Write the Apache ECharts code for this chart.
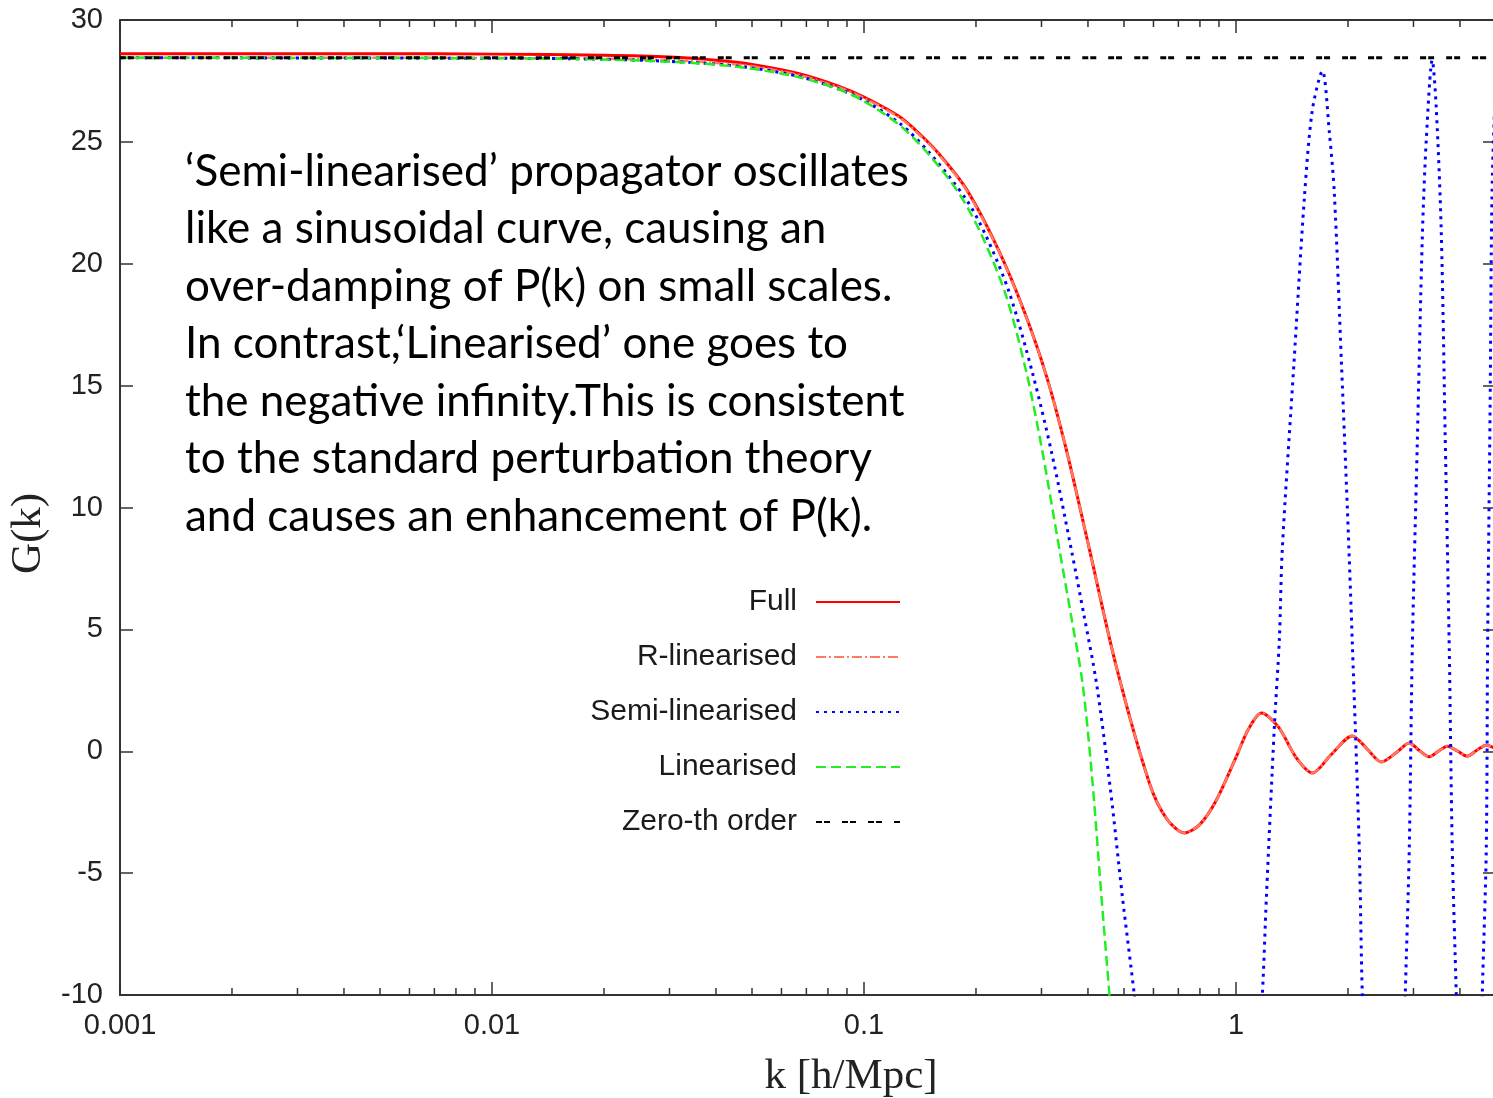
<!DOCTYPE html>
<html>
<head>
<meta charset="utf-8">
<script src="https://cdn.jsdelivr.net/npm/echarts@6/dist/echarts.min.js"></script>
<style>html,body{margin:0;padding:0;background:#fff;}#chart{width:1493px;height:1098px;}</style>
</head>
<body>
<div id="chart"></div>
<script>
// ---- data (k in h/Mpc, G(k)) ----
const seriesNames = ['Full', 'R-linearised', 'Semi-linearised', 'Linearised', 'Zero-th order'];

const fullData = [
  [0.001,28.62],[0.005,28.62],[0.01,28.6],[0.02,28.55],[0.03,28.48],[0.04,28.35],[0.05,28.18],
  [0.067,27.8],[0.085,27.3],[0.1,26.84],[0.125,26.02],[0.143,25.24],[0.16,24.46],[0.189,23.03],
  [0.23,20.56],[0.27,18.02],[0.31,15.35],[0.35,12.36],[0.404,8.26],[0.477,3.46],[0.585,-1.3],
  [0.65,-2.75],[0.727,-3.35],[0.80,-3.0],[0.886,-2.0],[1.0,-0.25],[1.08,0.9],[1.17,1.57],
  [1.3,1.0],[1.45,-0.25],[1.604,-0.89],[1.8,-0.15],[2.054,0.63],[2.25,0.1],[2.458,-0.44],
  [2.7,-0.05],[2.923,0.34],[3.1,0.05],[3.308,-0.23],[3.5,0.0],[3.698,0.21],[3.95,0.0],
  [4.184,-0.2],[4.45,0.05],[4.708,0.25],[5.0,0.1]
];

const rLinData = [
  [0.001,28.45],[0.005,28.45],[0.01,28.44],[0.02,28.41],[0.03,28.35],[0.04,28.24],[0.05,28.1],
  [0.067,27.74],[0.085,27.25],[0.1,26.8],[0.125,25.98],[0.143,25.2],[0.16,24.43],[0.189,23.0],
  [0.23,20.54],[0.27,18.0],[0.31,15.35],[0.35,12.36],[0.404,8.26],[0.477,3.46],[0.585,-1.3],
  [0.65,-2.75],[0.727,-3.35],[0.80,-3.0],[0.886,-2.0],[1.0,-0.25],[1.08,0.9],[1.17,1.57],
  [1.3,1.0],[1.45,-0.25],[1.604,-0.89],[1.8,-0.15],[2.054,0.63],[2.25,0.1],[2.458,-0.44],
  [2.7,-0.05],[2.923,0.34],[3.1,0.05],[3.308,-0.23],[3.5,0.0],[3.698,0.21],[3.95,0.0],
  [4.184,-0.2],[4.45,0.05],[4.708,0.25],[5.0,0.1]
];

const semiLinData = [
  [0.001,28.45],[0.01,28.43],[0.02,28.39],[0.036,28.24],[0.05,28.03],[0.067,27.68],[0.085,27.18],
  [0.1,26.7],[0.125,25.75],[0.15,24.55],[0.189,22.6],[0.2135,21.1],[0.246,18.8],[0.284,15.5],
  [0.32,12.2],[0.361,8.26],[0.39,5.6],[0.4216,2.8],[0.46,-1.6],[0.4953,-6.0],[0.533,-10],
  [0.6,-17],[0.7,-24],[0.85,-28.4],[1.0,-24],[1.1,-17],[1.177,-10],[1.207,-6],[1.268,1.0],
  [1.308,4.6],[1.332,8.3],[1.43,15.8],[1.527,22.7],[1.604,26.3],[1.707,27.9],[1.782,25.4],
  [1.838,22.9],[1.92,16],[1.992,10],[2.054,4.5],[2.145,-4],[2.186,-10],[2.3,-19],[2.4,-25],
  [2.52,-28.4],[2.65,-25],[2.75,-19],[2.851,-10],[2.923,-4],[2.978,4.2],[3.07,12.5],
  [3.169,21.1],[3.248,25.1],[3.37,28.35],[3.454,26.4],[3.563,21.3],[3.65,13],[3.744,4.2],
  [3.814,-4],[3.91,-10],[4.0,-16],[4.1,-22],[4.25,-28.4],[4.4,-24],[4.5,-17],[4.593,-10],
  [4.708,-4],[4.746,4.2],[4.82,14],[4.88,23],[5.0,28]
];

const linData = [
  [0.001,28.45],[0.01,28.43],[0.02,28.38],[0.036,28.22],[0.05,28.0],[0.067,27.65],[0.085,27.17],
  [0.1,26.67],[0.125,25.67],[0.15,24.45],[0.1807,22.85],[0.2083,21.1],[0.2415,18.64],
  [0.2735,15.52],[0.30,12.5],[0.3354,8.26],[0.36,5.6],[0.3867,2.8],[0.41,-1.0],[0.4349,-5.98],
  [0.4569,-10],[0.47,-12.5]
];

const zerothData = [[0.001,28.45],[5,28.45]];

const xMin = 0.001, xMax = 5;
const yMin = -10, yMax = 30, yStep = 5;
const minorTickK = [0.002,0.003,0.004,0.005,0.006,0.007,0.008,0.009,
                    0.02,0.03,0.04,0.05,0.06,0.07,0.08,0.09,
                    0.2,0.3,0.4,0.5,0.6,0.7,0.8,0.9,
                    2,3,4];

const annotation = [
  '\u2018Semi-linearised\u2019 propagator oscillates',
  'like a sinusoidal curve, causing an',
  'over-damping of P(k) on small scales.',
  'In contrast,\u2018Linearised\u2019 one goes to',
  'the negative infinity.This is consistent',
  'to the standard perturbation theory',
  'and causes an enhancement of P(k).'
];

// ---- chart ----
const chart = echarts.init(document.getElementById('chart'), null, {renderer: 'canvas'});
const axisColor = '#333';
const labelFont = 'Liberation Sans';

const lineSeries = (name, data, color, type, width) => ({
  name, type: 'line', data, showSymbol: false, symbol: 'none', smooth: 0.3,
  lineStyle: {color, type, width}, itemStyle: {color}, emphasis: {disabled: true}, clip: true
});

const axisLineStyle = {show: true, onZero: false, lineStyle: {color: axisColor, width: 2}};
const majorTick = {show: true, inside: true, length: 13, lineStyle: {color: axisColor, width: 1.5}};

chart.setOption({
  animation: false,
  backgroundColor: '#fff',
  grid: {left: 120, top: 20, right: -3, bottom: 103, containLabel: false, outerBoundsMode: 'none'},
  xAxis: [{
    type: 'log', logBase: 10, min: xMin, max: xMax, position: 'bottom',
    name: 'k [h/Mpc]', nameLocation: 'middle', nameGap: 60,
    nameTextStyle: {fontFamily: 'Liberation Serif', fontSize: 43, color: '#222', padding: [0, 0, 0, 86]},
    axisLine: axisLineStyle, axisTick: majorTick,
    axisLabel: {show: true, showMaxLabel: false, margin: 16, fontFamily: labelFont, fontSize: 29, color: '#222',
      formatter: v => String(v)},
    splitLine: {show: false}, minorTick: {show: false}
  }, {
    type: 'log', logBase: 10, min: xMin, max: xMax, position: 'top',
    axisLine: axisLineStyle, axisTick: majorTick,
    axisLabel: {show: false}, splitLine: {show: false}
  }],
  yAxis: [{
    type: 'value', min: yMin, max: yMax, interval: yStep, position: 'left',
    name: 'G(k)', nameLocation: 'middle', nameGap: 68, nameRotate: 90,
    nameTextStyle: {fontFamily: 'Liberation Serif', fontSize: 43, color: '#222', padding: [0, 52, 0, 0]},
    axisLine: axisLineStyle, axisTick: majorTick,
    axisLabel: {margin: 17, fontFamily: labelFont, fontSize: 29, color: '#222'},
    splitLine: {show: false}
  }, {
    type: 'value', min: yMin, max: yMax, interval: yStep, position: 'right',
    axisLine: axisLineStyle, axisTick: majorTick,
    axisLabel: {show: false}, splitLine: {show: false}
  }],
  legend: {
    data: seriesNames, orient: 'vertical', align: 'right', right: 592, top: 587,
    padding: 0, itemWidth: 84, itemHeight: 14, itemGap: 25, selectedMode: false,
    itemStyle: {color: 'rgba(0,0,0,0)', borderWidth: 0, opacity: 0},
    textStyle: {fontFamily: labelFont, fontSize: 30, color: '#1a1a1a', lineHeight: 30, padding: [0, 14, 0, 0]}
  },
  graphic: [{
    type: 'text', left: 185, top: 143, silent: true,
    style: {text: annotation.join('\n'), font: '44px Lato', lineHeight: 57.5, fill: '#000'}
  }],
  series: [
    lineSeries('Full', fullData, '#ff0000', 'solid', 3),
    lineSeries('R-linearised', rLinData, '#ff7a60', [10, 3, 2, 3], 2.5),
    lineSeries('Semi-linearised', semiLinData, '#0000ff', [3, 5], 3),
    lineSeries('Linearised', linData, '#22ee22', [10, 5], 2.5),
    lineSeries('Zero-th order', zerothData, '#000000', [6, 2, 6, 12], 3),
    {
      type: 'custom', name: 'minor ticks', silent: true, clip: false, z: 5,
      data: minorTickK.map(k => [k, yMin]), encode: {x: 0, y: 1},
      renderItem: (params, api) => {
        const k = api.value(0);
        const b = api.coord([k, yMin]);
        const t = api.coord([k, yMax]);
        return {type: 'group', children: [
          {type: 'line', shape: {x1: b[0], y1: b[1], x2: b[0], y2: b[1] - 7}, style: {stroke: axisColor, lineWidth: 1.5}},
          {type: 'line', shape: {x1: t[0], y1: t[1], x2: t[0], y2: t[1] + 7}, style: {stroke: axisColor, lineWidth: 1.5}}
        ]};
      }
    }
  ]
});
</script>
</body>
</html>
